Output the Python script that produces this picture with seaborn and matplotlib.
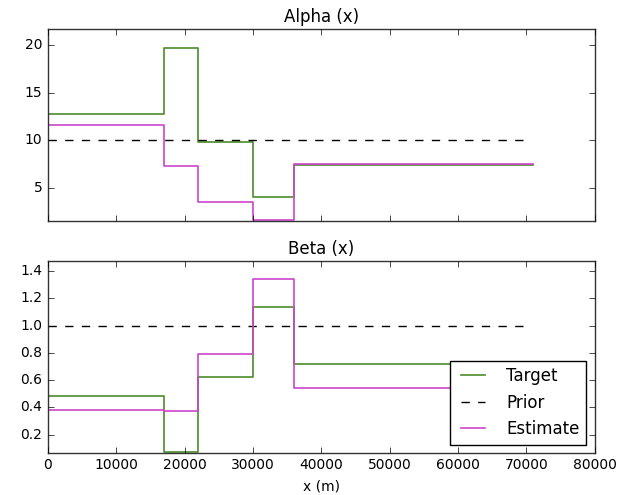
import numpy as np
import pandas as pd
import matplotlib
matplotlib.use('Agg')
import matplotlib.pyplot as plt
import seaborn as sns

# Layer boundaries (m); last value repeated at the end for the step plot
edges = [0, 17000, 22000, 30000, 36000, 71000]
prior_x = [0, 70000]

alpha_target = [12.75, 19.65, 9.85, 4.1, 7.4]
alpha_estimate = [11.65, 7.35, 3.55, 1.7, 7.5]
alpha_prior = 10.0

beta_target = [0.48, 0.07, 0.625, 1.135, 0.72]
beta_estimate = [0.383, 0.376, 0.79, 1.34, 0.545]
beta_prior = 1.0

green = '#4b8b2b'
magenta = '#cc44cc'

plt.style.use('classic')
plt.rcParams['font.family'] = ['DejaVu Sans']
plt.rcParams['font.size'] = 10

fig = plt.figure(figsize=(6.28, 4.95), dpi=100, facecolor='white')
ax1 = fig.add_axes([0.0764, 0.5535, 0.8706, 0.3875])
ax2 = fig.add_axes([0.0764, 0.085, 0.8706, 0.388], sharex=ax1)


def steps(vals):
    return pd.DataFrame({'x': edges, 'y': list(vals) + [vals[-1]]})


def draw(ax, target, estimate, prior):
    t = steps(target)
    e = steps(estimate)
    p = pd.DataFrame({'x': prior_x, 'y': [prior, prior]})
    sns.lineplot(data=t, x='x', y='y', ax=ax, color=green, lw=1.2,
                 drawstyle='steps-post', label='Target', estimator=None)
    sns.lineplot(data=p, x='x', y='y', ax=ax, color='black', lw=1.0,
                 linestyle='--', dashes=False, label='Prior', estimator=None)
    sns.lineplot(data=e, x='x', y='y', ax=ax, color=magenta, lw=1.2,
                 drawstyle='steps-post', label='Estimate', estimator=None)
    ax.set_xlabel('')
    ax.set_ylabel('')


draw(ax1, alpha_target, alpha_estimate, alpha_prior)
draw(ax2, beta_target, beta_estimate, beta_prior)

ax1.get_legend().remove()
ax1.set_ylim(1.6, 21.6)
ax1.set_yticks([5, 10, 15, 20])
ax1.set_title('Alpha (x)', fontsize=12)
plt.setp(ax1.get_xticklabels(), visible=False)

ax2.set_ylim(0.065, 1.475)
ax2.set_yticks([0.2, 0.4, 0.6, 0.8, 1.0, 1.2, 1.4])
ax2.set_xlim(0, 80000)
ax2.set_xticks(range(0, 80001, 10000))
ax2.set_title('Beta (x)', fontsize=12)
ax2.set_xlabel('x (m)', fontsize=10)
ax2.legend(loc='lower right', fontsize=12, frameon=True, fancybox=False,
           handletextpad=1.0, borderaxespad=0.5)

for ax in (ax1, ax2):
    ax.tick_params(labelsize=10, direction='in')
    for s in ax.spines.values():
        s.set_color('#333333')

fig.savefig('out.png', dpi=100, facecolor='white')
